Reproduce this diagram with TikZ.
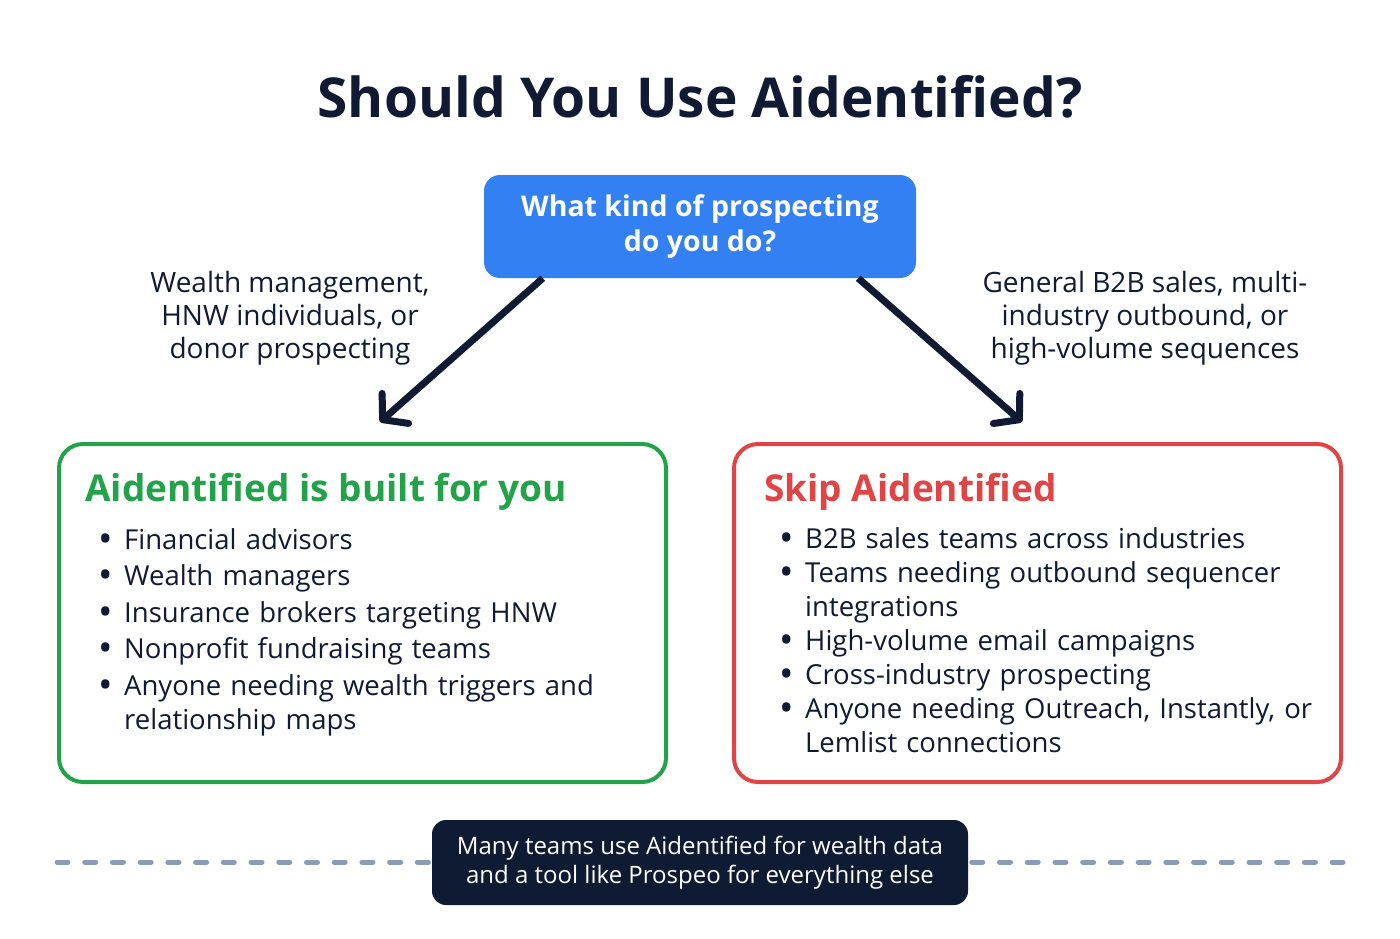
\documentclass[tikz,border=0pt]{standalone}
\usepackage{fontspec}
\setmainfont{Open Sans}
\usepackage{tikz}
\usetikzlibrary{positioning, arrows.meta, calc}
\usepackage{enumitem}

\definecolor{ink}{HTML}{111A33}
\definecolor{askblue}{HTML}{3380F2}
\definecolor{yesgreen}{HTML}{22A34A}
\definecolor{nored}{HTML}{E04444}
\definecolor{dashgray}{HTML}{8C9BB5}
\definecolor{notebg}{HTML}{0F1A33}

\newcommand{\dotlabel}{\raisebox{-3pt}[0pt][0pt]{\scalebox{1.4}{\textbullet}}}

\begin{document}
\begin{tikzpicture}[x=1pt, y=-1pt,
  qbox/.style={fill=askblue, rounded corners=16pt, minimum width=432pt, minimum height=103pt,
    text=white, font=\bfseries\fontsize{28.5}{35}\selectfont, align=center},
  choice/.style={draw=#1, line width=4pt, rounded corners=24pt, minimum width=607pt, minimum height=338pt},
  boxtitle/.style={anchor=base west, inner sep=0pt, text=#1, font=\bfseries\fontsize{37}{40}\selectfont},
  bullets/.style={anchor=north west, inner sep=0pt, text width=580pt, text=ink, font=\fontsize{27.5}{34}\selectfont},
  lbl/.style={text=ink, font=\fontsize{28}{33}\selectfont, align=center},
  flow/.style={draw=ink, line width=7pt, -{Straight Barb[length=17pt, width=40pt, round]}},
  divider/.style={draw=dashgray, line width=5pt, line cap=round, dash pattern=on 11pt off 16.72pt},
  note/.style={fill=notebg, rounded corners=14pt, minimum width=536pt, minimum height=85pt,
    text=white, font=\fontsize{24}{29}\selectfont, align=center}
]
\fill[white] (0,0) rectangle (1400,939);
\useasboundingbox (0,0) rectangle (1400,939);

% title and question
\node[text=ink, font=\bfseries\fontsize{55}{60}\selectfont] (title) at (700,97) {Should You Use Aidentified?};
\node[qbox] (question) at (700,226.5) {What kind of prospecting\\do you do?};

% answers
\node[lbl] (leftlbl) at (290,318) {Wealth management,\\HNW individuals, or\\donor prospecting};
\node[lbl] (rightlbl) at (1145,318) {General B2B sales, multi-\\industry outbound, or\\high-volume sequences};

% the two outcomes
\node[choice=yesgreen] (fitbox) at (362.5,613) {};
\node[choice=nored] (skipbox) at (1037.5,613) {};

\node[boxtitle=yesgreen] (fittitle) at ([xshift=28pt, yshift=-59pt]fitbox.north west) {Aidentified is built for you};
\node[boxtitle=nored] (skiptitle) at ([xshift=32pt, yshift=-59pt]skipbox.north west) {Skip Aidentified};

\node[bullets] (fitlist) at ([xshift=43pt, yshift=-73pt]fitbox.north west) {%
  \begin{itemize}[label=\dotlabel, leftmargin=24pt, labelsep=11pt, itemsep=2.5pt, topsep=0pt, parsep=0pt, partopsep=0pt]
    \item Financial advisors
    \item Wealth managers
    \item Insurance brokers targeting HNW
    \item Nonprofit fundraising teams
    \item Anyone needing wealth triggers and\newline relationship maps
  \end{itemize}};
\node[bullets] (skiplist) at ([xshift=49pt, yshift=-72pt]skipbox.north west) {%
  \begin{itemize}[label=\dotlabel, leftmargin=24pt, labelsep=11pt, itemsep=0pt, topsep=0pt, parsep=0pt, partopsep=0pt]
    \item B2B sales teams across industries
    \item Teams needing outbound sequencer\newline integrations
    \item High-volume email campaigns
    \item Cross-industry prospecting
    \item Anyone needing Outreach, Instantly, or\newline Lemlist connections
  \end{itemize}};

\draw[flow] ([xshift=59pt]question.south west) -- ([xshift=17.5pt, yshift=20pt]fitbox.north);
\draw[flow] ([xshift=-58pt]question.south east) -- ([xshift=-15.5pt, yshift=20pt]skipbox.north);

% footer
\coordinate (dl) at (57,862);
\coordinate (dr) at (1343,862);
\draw[divider] (dl) -- (dr);
\node[note] (note) at (700,862.5) {Many teams use Aidentified for wealth data\\and a tool like Prospeo for everything else};
\end{tikzpicture}
\end{document}
